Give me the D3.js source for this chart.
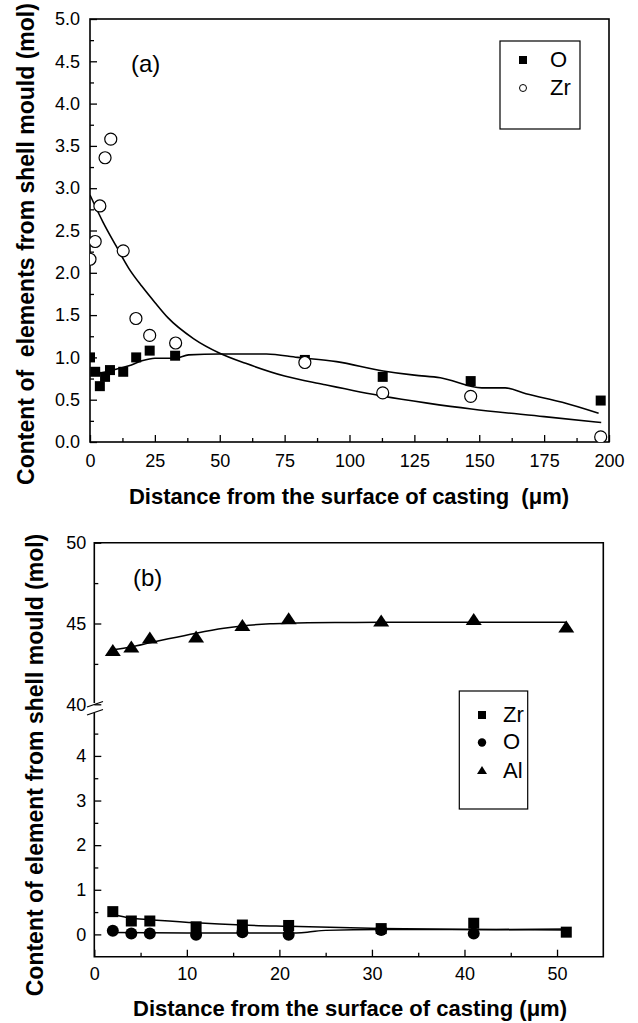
<!DOCTYPE html>
<html>
<head>
<meta charset="utf-8">
<script src="https://cdn.jsdelivr.net/npm/d3@7"></script>
<style>
  body { margin: 0; background: #fff; }
  svg { font-family: "Liberation Sans", Arial, sans-serif; }
</style>
</head>
<body>
<div id="chart"></div>
<script>
// ---- panel (a) data
var aO_x = [0, 2, 3.8, 5.8, 7.7, 12.8, 17.8, 23, 32.8, 82.8, 112.8, 146.7, 196.8];
var aO_y = [1.0, 0.83, 0.66, 0.77, 0.85, 0.83, 1.0, 1.08, 1.02, 0.97, 0.77, 0.72, 0.49];
var aZr_x = [0, 2, 3.8, 5.8, 8, 12.8, 17.7, 23, 33, 82.8, 112.8, 146.7, 196.8];
var aZr_y = [2.16, 2.37, 2.79, 3.36, 3.58, 2.26, 1.46, 1.26, 1.17, 0.94, 0.58, 0.54, 0.06];
// fitted curves
var aOfit_x = [1, 5, 10, 15, 20, 25, 33, 38, 50, 68, 80, 95, 113, 125, 135, 151, 160, 168, 182, 196];
var aOfit_y = [0.80, 0.82, 0.86, 0.90, 0.96, 0.99, 0.99, 1.03, 1.04, 1.04, 1.0, 0.95, 0.84, 0.79, 0.76, 0.64, 0.64, 0.57, 0.47, 0.34];
var aZrfit_x = [0, 5, 10, 15, 20, 25, 30, 40, 50, 60, 75, 90, 113, 130, 147, 175, 197];
var aZrfit_y = [2.92, 2.6, 2.32, 2.05, 1.84, 1.65, 1.47, 1.22, 1.05, 0.93, 0.78, 0.68, 0.54, 0.46, 0.39, 0.30, 0.23];

// ---- panel (b) data
var bX = [2, 4, 6, 11, 16, 21, 31, 41, 51];
var bZr = [0.51, 0.30, 0.30, 0.17, 0.21, 0.20, 0.13, 0.25, 0.05];
var bO_x = [2, 4, 6, 11, 16, 21, 31, 41];
var bO = [0.08, 0.02, 0.02, -0.01, 0.05, -0.01, 0.10, 0.02];
var bAl = [43.36, 43.57, 44.13, 44.19, 44.91, 45.33, 45.18, 45.28, 44.81];
var bAlfit_x = [2, 4, 6, 8, 11, 14, 16, 19, 21, 26, 31, 41, 51];
var bAlfit_y = [43.38, 43.55, 43.8, 44.05, 44.4, 44.7, 44.85, 44.98, 45.02, 45.06, 45.07, 45.08, 45.08];
var bZrfit_x = [2, 4, 6, 11, 16, 21, 31, 41, 51];
var bZrfit_y = [0.45, 0.36, 0.33, 0.26, 0.21, 0.18, 0.13, 0.11, 0.10];
var bOfit_x = [2, 10, 21, 23, 25, 31, 41, 51];
var bOfit_y = [0.04, 0.03, 0.03, 0.05, 0.09, 0.11, 0.11, 0.12];

var aXticks = [0, 25, 50, 75, 100, 125, 150, 175, 200];
var aYticks = [0, 0.5, 1, 1.5, 2, 2.5, 3, 3.5, 4, 4.5, 5];
var bXticks = [0, 10, 20, 30, 40, 50];
var bYupTicks = [40, 45, 50];
var bYloTicks = [0, 1, 2, 3, 4];

var W = 638, H = 1023;
var svg = d3.select("#chart").append("svg")
  .attr("width", W).attr("height", H);

function zip(xs, ys) { return xs.map(function (x, i) { return [x, ys[i]]; }); }

function styleAxis(g, fs) {
  g.select(".domain").remove();
  g.selectAll("line").attr("stroke", "#000").attr("stroke-width", 1.3);
  g.selectAll("text").attr("fill", "#000").style("font-size", fs + "px");
}

function minorVals(a, b, step) {
  var out = [];
  for (var v = a; v <= b + 1e-9; v += step) out.push(+v.toFixed(4));
  return out;
}

// ================= panel (a)
var ax = d3.scaleLinear().domain([0, 200]).range([90, 609]);
var ay = d3.scaleLinear().domain([0, 5]).range([442, 19]);

svg.append("defs").append("clipPath").attr("id", "clipA")
  .append("rect").attr("x", 90).attr("y", 19).attr("width", 519).attr("height", 423);

var gA = svg.append("g");

gA.append("g").attr("transform", "translate(0,442)")
  .call(d3.axisBottom(ax).tickValues(minorVals(12.5, 187.5, 25)).tickSize(-4).tickFormat(""))
  .call(styleAxis, 18);
gA.append("g").attr("transform", "translate(0,442)")
  .call(d3.axisBottom(ax).tickValues(aXticks).tickSize(-7).tickPadding(12).tickFormat(d3.format("d")))
  .call(styleAxis, 18);
gA.append("g").attr("transform", "translate(90,0)")
  .call(d3.axisLeft(ay).tickValues(minorVals(0.25, 4.75, 0.5)).tickSize(-4).tickFormat(""))
  .call(styleAxis, 18);
gA.append("g").attr("transform", "translate(90,0)")
  .call(d3.axisLeft(ay).tickValues(aYticks).tickSize(-7).tickPadding(10).tickFormat(d3.format(".1f")))
  .call(styleAxis, 18);

gA.append("rect").attr("x", 90).attr("y", 19).attr("width", 519).attr("height", 423)
  .attr("fill", "none").attr("stroke", "#000").attr("stroke-width", 1.6);

var lineA = d3.line().x(function (d) { return ax(d[0]); }).y(function (d) { return ay(d[1]); })
  .curve(d3.curveMonotoneX);
var marksA = gA.append("g").attr("clip-path", "url(#clipA)");
marksA.append("path").attr("d", lineA(zip(aOfit_x, aOfit_y)))
  .attr("fill", "none").attr("stroke", "#000").attr("stroke-width", 1.6);
marksA.append("path").attr("d", lineA(zip(aZrfit_x, aZrfit_y)))
  .attr("fill", "none").attr("stroke", "#000").attr("stroke-width", 1.6);

marksA.selectAll("rect.o").data(zip(aO_x, aO_y)).enter().append("rect")
  .attr("x", function (d) { return ax(d[0]) - 5; })
  .attr("y", function (d) { return ay(d[1]) - 5; })
  .attr("width", 10).attr("height", 10).attr("fill", "#000");
marksA.selectAll("circle.zr").data(zip(aZr_x, aZr_y)).enter().append("circle")
  .attr("cx", function (d) { return ax(d[0]); })
  .attr("cy", function (d) { return ay(d[1]); })
  .attr("r", 6).attr("fill", "#fff").attr("stroke", "#000").attr("stroke-width", 1.2);

gA.append("text").attr("x", 131).attr("y", 72).style("font-size", "24px").text("(a)");

// legend (a)
var legA = gA.append("g");
legA.append("rect").attr("x", 500).attr("y", 41).attr("width", 80).attr("height", 88)
  .attr("fill", "#fff").attr("stroke", "#000").attr("stroke-width", 1.2);
legA.append("rect").attr("x", 519).attr("y", 56).attr("width", 8).attr("height", 8).attr("fill", "#000");
legA.append("circle").attr("cx", 523).attr("cy", 88).attr("r", 3.5)
  .attr("fill", "#fff").attr("stroke", "#000").attr("stroke-width", 1);
legA.append("text").attr("x", 550).attr("y", 67).style("font-size", "22px").text("O");
legA.append("text").attr("x", 550).attr("y", 95).style("font-size", "22px").text("Zr");

svg.append("text")
  .attr("transform", "translate(34,244) rotate(-90)")
  .attr("text-anchor", "middle").style("font-size", "23px").style("font-weight", "bold")
  .attr("xml:space", "preserve")
  .text("Content of  elements from shell mould (mol)");
svg.append("text")
  .attr("x", 349).attr("y", 504).attr("text-anchor", "middle")
  .style("font-size", "22px").style("font-weight", "bold")
  .attr("xml:space", "preserve")
  .text("Distance from the surface of casting  (\u03bcm)");

// ================= panel (b)
var bx = d3.scaleLinear().domain([0, 55]).range([94.3, 603.3]);
var byU = d3.scaleLinear().domain([40, 50]).range([704.3, 542.7]);
var byL = d3.scaleLinear().domain([-0.5, 5]).range([956.7, 711.3]);
function by(v) { return v >= 20 ? byU(v) : byL(v); }

var gB = svg.append("g");

gB.append("g").attr("transform", "translate(0,956.7)")
  .call(d3.axisBottom(bx).tickValues([5, 15, 25, 35, 45]).tickSize(-4).tickFormat(""))
  .call(styleAxis, 18);
gB.append("g").attr("transform", "translate(0,956.7)")
  .call(d3.axisBottom(bx).tickValues(bXticks).tickSize(-7).tickPadding(11).tickFormat(d3.format("d")))
  .call(styleAxis, 18);
gB.append("g").attr("transform", "translate(94.3,0)")
  .call(d3.axisLeft(byU).tickValues([42.5, 47.5]).tickSize(-4).tickFormat(""))
  .call(styleAxis, 18);
gB.append("g").attr("transform", "translate(94.3,0)")
  .call(d3.axisLeft(byU).tickValues(bYupTicks).tickSize(-7).tickPadding(8).tickFormat(d3.format("d")))
  .call(styleAxis, 18);
gB.append("g").attr("transform", "translate(94.3,0)")
  .call(d3.axisLeft(byL).tickValues([0.5, 1.5, 2.5, 3.5, 4.5]).tickSize(-4).tickFormat(""))
  .call(styleAxis, 18);
gB.append("g").attr("transform", "translate(94.3,0)")
  .call(d3.axisLeft(byL).tickValues(bYloTicks).tickSize(-7).tickPadding(8).tickFormat(d3.format("d")))
  .call(styleAxis, 18);

// frame with broken left side
var fr = gB.append("g").attr("stroke", "#000").attr("stroke-width", 1.6).attr("fill", "none");
fr.append("path").attr("d", "M94.3,703V542.7H603.3V956.7H94.3V713");
fr.append("line").attr("x1", 87).attr("y1", 707).attr("x2", 103).attr("y2", 701.5).attr("stroke-width", 1.3);
fr.append("line").attr("x1", 87).attr("y1", 715).attr("x2", 103).attr("y2", 709.5).attr("stroke-width", 1.3);

var lineB = d3.line().x(function (d) { return bx(d[0]); }).y(function (d) { return by(d[1]); })
  .curve(d3.curveMonotoneX);
[[bAlfit_x, bAlfit_y], [bZrfit_x, bZrfit_y], [bOfit_x, bOfit_y]].forEach(function (s) {
  gB.append("path").attr("d", lineB(zip(s[0], s[1])))
    .attr("fill", "none").attr("stroke", "#000").attr("stroke-width", 1.5);
});

gB.selectAll("rect.zr").data(zip(bX, bZr)).enter().append("rect")
  .attr("x", function (d) { return bx(d[0]) - 5.5; })
  .attr("y", function (d) { return by(d[1]) - 5.5; })
  .attr("width", 11).attr("height", 11).attr("fill", "#000");
gB.selectAll("circle.o").data(zip(bO_x, bO)).enter().append("circle")
  .attr("cx", function (d) { return bx(d[0]); })
  .attr("cy", function (d) { return by(d[1]); })
  .attr("r", 6).attr("fill", "#000");
function tri(cx, cy, w, h) {
  return "M" + (cx - w / 2) + "," + (cy + h / 2) + "L" + cx + "," + (cy - h / 2) + "L" + (cx + w / 2) + "," + (cy + h / 2) + "Z";
}
gB.selectAll("path.al").data(zip(bX, bAl)).enter().append("path")
  .attr("d", function (d) { return tri(bx(d[0]), by(d[1]), 16, 12); })
  .attr("fill", "#000");

gB.append("text").attr("x", 133).attr("y", 586).style("font-size", "24px").text("(b)");

// legend (b)
var legB = gB.append("g");
legB.append("rect").attr("x", 459.3).attr("y", 691).attr("width", 68.4).attr("height", 118)
  .attr("fill", "#fff").attr("stroke", "#000").attr("stroke-width", 1.2);
legB.append("rect").attr("x", 478).attr("y", 711).attr("width", 8).attr("height", 8).attr("fill", "#000");
legB.append("circle").attr("cx", 482).attr("cy", 742.5).attr("r", 4.2).attr("fill", "#000");
legB.append("path").attr("d", tri(482, 770, 10, 8)).attr("fill", "#000");
legB.append("text").attr("x", 503).attr("y", 722).style("font-size", "22px").text("Zr");
legB.append("text").attr("x", 503).attr("y", 749).style("font-size", "22px").text("O");
legB.append("text").attr("x", 503).attr("y", 778).style("font-size", "22px").text("Al");

svg.append("text")
  .attr("transform", "translate(43,765) rotate(-90)")
  .attr("text-anchor", "middle").style("font-size", "23px").style("font-weight", "bold")
  .text("Content of element from shell mould (mol)");
svg.append("text")
  .attr("x", 350).attr("y", 1016).attr("text-anchor", "middle")
  .style("font-size", "22px").style("font-weight", "bold")
  .text("Distance from the surface of casting (\u03bcm)");
</script>
</body>
</html>
